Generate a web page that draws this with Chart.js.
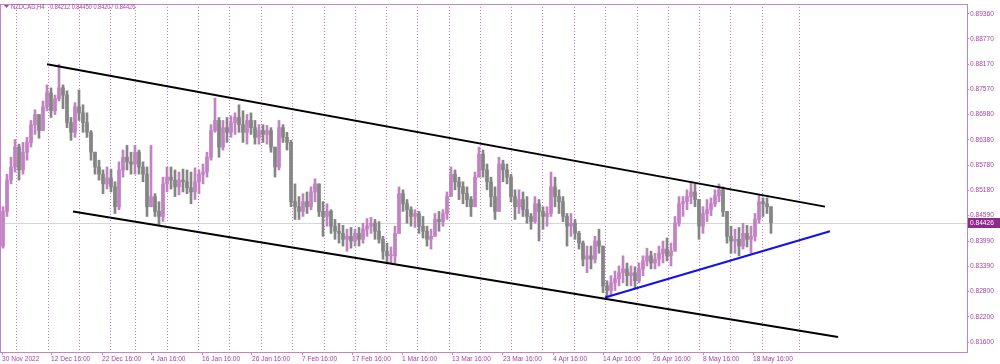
<!DOCTYPE html>
<html><head><meta charset="utf-8">
<script src="https://cdn.jsdelivr.net/npm/chart.js@4.4.1/dist/chart.umd.min.js"></script>
<style>html,body{margin:0;padding:0;background:#fff;overflow:hidden}#wrap{width:1000px;height:364px}</style>
</head><body><div id="wrap"><canvas id="c" width="1000" height="364"></canvas></div>
<script>
// ---- data (NZDCAD H4, aggregated slots) ----
const symbol = 'NZDCAD,H4';
const lastBar = [0.84212, 0.84450, 0.84207, 0.84426]; // O H L C
const firstOpen = 0.8387;
const highs = [
0.8480,0.8557,0.8597,0.8639,0.8628,0.8632,0.8644,0.8684,0.8709,0.8698,
0.8730,0.8768,0.8761,0.8744,0.8817,0.8768,0.8754,0.8691,0.8726,0.8756,
0.8721,0.8702,0.8660,0.8609,0.8590,0.8567,0.8574,0.8569,0.8539,0.8586,
0.8614,0.8625,0.8609,0.8625,0.8614,0.8586,0.8574,0.8625,0.8511,0.8492,
0.8550,0.8574,0.8574,0.8567,0.8562,0.8569,0.8567,0.8562,0.8572,0.8567,
0.8581,0.8609,0.8674,0.8737,0.8691,0.8684,0.8691,0.8695,0.8702,0.8721,
0.8707,0.8698,0.8702,0.8684,0.8674,0.8674,0.8672,0.8667,0.8621,0.8684,
0.8674,0.8656,0.8637,0.8534,0.8504,0.8511,0.8515,0.8527,0.8546,0.8527,
0.8492,0.8487,0.8473,0.8450,0.8441,0.8436,0.8427,0.8431,0.8427,0.8431,
0.8441,0.8452,0.8455,0.8450,0.8445,0.8410,0.8394,0.8385,0.8434,0.8527,
0.8520,0.8497,0.8480,0.8473,0.8469,0.8457,0.8434,0.8427,0.8464,0.8469,
0.8473,0.8515,0.8574,0.8567,0.8550,0.8539,0.8527,0.8504,0.8562,0.8621,
0.8614,0.8581,0.8550,0.8527,0.8597,0.8590,0.8581,0.8557,0.8520,0.8520,
0.8515,0.8504,0.8464,0.8504,0.8497,0.8480,0.8480,0.8562,0.8550,0.8520,
0.8504,0.8464,0.8464,0.8450,0.8422,0.8399,0.8387,0.8387,0.8410,0.8427,
0.8387,0.8305,0.8317,0.8328,0.8340,0.8364,0.8347,0.8340,0.8338,0.8347,
0.8364,0.8382,0.8375,0.8370,0.8387,0.8399,0.8406,0.8394,0.8457,0.8504,
0.8504,0.8520,0.8539,0.8534,0.8492,0.8480,0.8497,0.8501,0.8520,0.8534,
0.8527,0.8469,0.8434,0.8427,0.8431,0.8441,0.8436,0.8434,0.8464,0.8508,
0.8501,0.8501,0.8480];
const lows = [
0.8382,0.8457,0.8534,0.8562,0.8543,0.8557,0.8590,0.8621,0.8651,0.8642,
0.8667,0.8707,0.8691,0.8698,0.8730,0.8712,0.8667,0.8637,0.8644,0.8684,
0.8656,0.8644,0.8590,0.8557,0.8543,0.8511,0.8522,0.8515,0.8464,0.8473,
0.8550,0.8567,0.8557,0.8557,0.8557,0.8539,0.8457,0.8492,0.8457,0.8438,
0.8445,0.8515,0.8522,0.8504,0.8508,0.8515,0.8511,0.8487,0.8497,0.8511,
0.8534,0.8550,0.8590,0.8656,0.8597,0.8614,0.8632,0.8644,0.8651,0.8656,
0.8632,0.8628,0.8651,0.8628,0.8628,0.8632,0.8628,0.8609,0.8550,0.8567,
0.8632,0.8614,0.8480,0.8450,0.8450,0.8457,0.8464,0.8473,0.8492,0.8457,
0.8410,0.8434,0.8417,0.8403,0.8394,0.8387,0.8375,0.8382,0.8387,0.8387,
0.8394,0.8410,0.8417,0.8403,0.8394,0.8356,0.8345,0.8345,0.8347,0.8434,
0.8469,0.8441,0.8434,0.8431,0.8417,0.8406,0.8387,0.8380,0.8417,0.8422,
0.8434,0.8450,0.8504,0.8520,0.8497,0.8487,0.8480,0.8457,0.8480,0.8550,
0.8550,0.8520,0.8480,0.8450,0.8480,0.8539,0.8534,0.8492,0.8450,0.8464,
0.8457,0.8441,0.8427,0.8441,0.8399,0.8427,0.8434,0.8457,0.8480,0.8464,
0.8445,0.8387,0.8410,0.8403,0.8380,0.8340,0.8324,0.8333,0.8347,0.8370,
0.8277,0.8265,0.8270,0.8282,0.8293,0.8300,0.8293,0.8293,0.8286,0.8300,
0.8317,0.8340,0.8333,0.8333,0.8340,0.8347,0.8352,0.8340,0.8375,0.8434,
0.8457,0.8473,0.8487,0.8480,0.8403,0.8417,0.8445,0.8459,0.8480,0.8492,
0.8457,0.8394,0.8370,0.8370,0.8364,0.8380,0.8385,0.8370,0.8399,0.8441,
0.8457,0.8464,0.8417];
const closes = [
0.8469,0.8543,0.8574,0.8621,0.8567,0.8609,0.8632,0.8674,0.8698,0.8660,
0.8716,0.8749,0.8707,0.8735,0.8761,0.8744,0.8679,0.8656,0.8716,0.8702,
0.8679,0.8656,0.8609,0.8574,0.8557,0.8534,0.8548,0.8527,0.8480,0.8567,
0.8597,0.8586,0.8581,0.8609,0.8574,0.8557,0.8480,0.8504,0.8469,0.8457,
0.8534,0.8550,0.8543,0.8527,0.8543,0.8539,0.8525,0.8515,0.8539,0.8557,
0.8562,0.8597,0.8660,0.8684,0.8621,0.8667,0.8656,0.8679,0.8691,0.8674,
0.8656,0.8684,0.8667,0.8644,0.8660,0.8651,0.8660,0.8621,0.8574,0.8667,
0.8644,0.8632,0.8492,0.8480,0.8469,0.8492,0.8480,0.8515,0.8534,0.8469,
0.8457,0.8469,0.8434,0.8422,0.8417,0.8403,0.8410,0.8399,0.8417,0.8403,
0.8427,0.8434,0.8441,0.8422,0.8403,0.8375,0.8364,0.8364,0.8417,0.8511,
0.8487,0.8473,0.8457,0.8464,0.8434,0.8422,0.8403,0.8410,0.8450,0.8445,
0.8464,0.8504,0.8557,0.8539,0.8527,0.8511,0.8497,0.8480,0.8550,0.8604,
0.8567,0.8539,0.8504,0.8469,0.8581,0.8567,0.8550,0.8504,0.8480,0.8497,
0.8473,0.8457,0.8445,0.8487,0.8469,0.8457,0.8464,0.8527,0.8504,0.8492,
0.8457,0.8434,0.8441,0.8417,0.8394,0.8356,0.8364,0.8356,0.8399,0.8387,
0.8293,0.8282,0.8300,0.8310,0.8324,0.8333,0.8317,0.8324,0.8305,0.8333,
0.8352,0.8364,0.8347,0.8356,0.8370,0.8380,0.8364,0.8375,0.8441,0.8487,
0.8492,0.8504,0.8515,0.8497,0.8434,0.8464,0.8473,0.8487,0.8506,0.8520,
0.8469,0.8410,0.8399,0.8403,0.8387,0.8417,0.8403,0.8410,0.8450,0.8492,
0.8487,0.8480,0.84426];

const yTicks = [0.89360,0.88770,0.88170,0.87570,0.86980,0.86380,0.85780,0.85180,0.84590,0.83990,0.83390,0.82800,0.82200,0.81600];
const xLabels = ['30 Nov 2022','12 Dec 16:00','22 Dec 16:00','4 Jan 16:00','16 Jan 16:00','26 Jan 16:00','7 Feb 16:00','17 Feb 16:00','1 Mar 16:00','13 Mar 16:00','23 Mar 16:00','4 Apr 16:00','14 Apr 16:00','26 Apr 16:00','8 May 16:00','18 May 16:00'];
const xLabelPos = [0.25,12.5,25.25,37.5,50.25,62.75,75.25,87.75,100.25,112.75,125.5,138,150.5,163,175.5,188];
const separators = [3.75,11.75,19.5,27.25,33.5,41.5,49.25,57,65,72.75,80.75,88.5,96.25,104,112,119.75,127.5,135.25,143.25,151,159,166.75,174.5,182.25,190.25,199.5];
const channelUpper = [{x:11.5,y:0.88168},{x:206,y:0.84803}];
const channelLower = [{x:18,y:0.84687},{x:209.25,y:0.81718}];
const supportLine  = [{x:151,y:0.82653},{x:207.25,y:0.84219}];

// ---- styling ----
const BULL = '#c283c2', BEAR = '#858585';
const AXIS = '#c483c4', TXT = '#a543a5', SEP = '#cc6ecc';
const FONT = 'Liberation Sans';

const opens = closes.map((c,i)=> i===0 ? firstOpen : closes[i-1]);
const isBull = closes.map((c,i)=> c >= opens[i]);
const candleColors = isBull.map(b=> b ? BULL : BEAR);
const XOFF = 0.5;
const wickData = highs.map((h,i)=>({x:i+XOFF, y:[Math.min(lows[i],opens[i],closes[i]), Math.max(h,opens[i],closes[i])]}));
const bodyData = closes.map((c,i)=>({x:i+XOFF, y:[Math.min(opens[i],c), Math.max(opens[i],c)]}));

const lastPrice = lastBar[3];

const decor = {
  id:'decor',
  beforeDatasetsDraw(chart){
    const {ctx, chartArea:a, scales:{x,y}} = chart;
    ctx.save();
    ctx.strokeStyle = SEP; ctx.lineWidth = 1; ctx.setLineDash([1,2]);
    separators.forEach(v=>{
      const px = Math.round(x.getPixelForValue(v))+0.5;
      ctx.beginPath(); ctx.moveTo(px,a.top+2); ctx.lineTo(px,a.bottom); ctx.stroke();
    });
    ctx.setLineDash([]);
    const py = Math.round(y.getPixelForValue(lastPrice))+0.5;
    ctx.strokeStyle = '#d6d6d6';
    ctx.beginPath(); ctx.moveTo(a.left,py); ctx.lineTo(a.right,py); ctx.stroke();
    ctx.restore();
  },
  afterDraw(chart){
    const {ctx, chartArea:a, scales:{y}} = chart;
    ctx.save();
    ctx.strokeStyle = AXIS; ctx.lineWidth = 1;
    ctx.strokeRect(a.left-0.5, a.top-0.5, a.right-a.left+1, a.bottom-a.top+1);
    // price tag
    const py = Math.round(y.getPixelForValue(lastPrice));
    ctx.fillStyle = '#8e2a8e';
    ctx.fillRect(a.right+1, py-5, 32, 10);
    ctx.fillStyle = '#ffffff';
    ctx.font = `6.6px "${FONT}"`;
    ctx.textBaseline = 'middle'; ctx.textAlign = 'left';
    ctx.fillText(lastPrice.toFixed(5), a.right+3, py+0.5);
    // title
    ctx.fillStyle = TXT;
    ctx.beginPath(); ctx.moveTo(4,5); ctx.lineTo(9,5); ctx.lineTo(6.5,8); ctx.closePath(); ctx.fill();
    ctx.font = `6.8px "${FONT}"`;
    ctx.save();
    ctx.translate(11, 7); ctx.scale(0.86, 1);
    ctx.fillText(symbol, 0, 0);
    ctx.restore();
    ctx.save();
    ctx.translate(50, 7); ctx.scale(0.82, 1);
    ctx.fillText(lastBar.map(v=>v.toFixed(5)).join(' '), 0, 0);
    ctx.restore();
    ctx.restore();
  }
};

new Chart(document.getElementById('c'), {
  type:'bar',
  data:{datasets:[
    {type:'line', data:channelUpper, borderColor:'#000', borderWidth:2, pointRadius:0, order:0},
    {type:'line', data:channelLower, borderColor:'#000', borderWidth:2, pointRadius:0, order:0},
    {type:'line', data:supportLine, borderColor:'#1010f0', borderWidth:2, pointRadius:0, order:0},
    {data:bodyData, backgroundColor:candleColors, barThickness:3, grouped:false, minBarLength:1, order:1},
    {data:wickData, backgroundColor:candleColors, barThickness:2, grouped:false, minBarLength:1, order:2}
  ]},
  options:{
    responsive:false, animation:false, devicePixelRatio:1,
    layout:{padding:{left:1,top:1,right:0,bottom:0}},
    plugins:{legend:{display:false}, tooltip:{enabled:false}},
    scales:{
      x:{type:'linear', min:0, max:241.5, offset:false,
        afterBuildTicks(s){ s.ticks = xLabelPos.map(v=>({value:v})); },
        afterFit(s){ s.height = 12; },
        ticks:{autoSkip:false, maxRotation:0, align:'start', padding:0, color:TXT,
          font:{family:FONT, size:6.6}, callback:(v,i)=>xLabels[i]},
        grid:{drawOnChartArea:false, offset:false, color:AXIS, tickLength:3},
        border:{display:false}},
      y:{type:'linear', position:'right', min:0.81366, max:0.89570,
        afterBuildTicks(s){ s.ticks = yTicks.map(v=>({value:v})); },
        afterFit(s){ s.width = 33; },
        ticks:{padding:1, color:TXT, font:{family:FONT, size:6.6}, callback:v=>Number(v).toFixed(5)},
        grid:{drawOnChartArea:false, color:AXIS, tickLength:2},
        border:{display:false}}
    }
  },
  plugins:[decor]
});
</script>
</body></html>
